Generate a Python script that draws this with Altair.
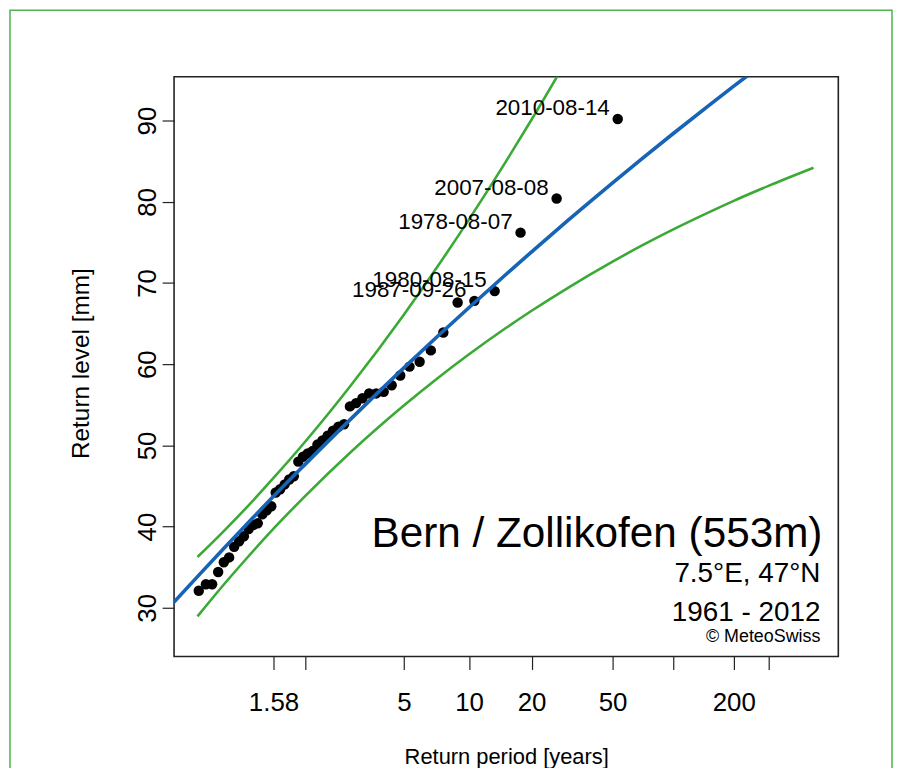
import altair as alt
import numpy as np
import pandas as pd

# ---------------- data ----------------
# annual maxima (visible part), return period from plotting position, level in mm
point_periods = [1.104, 1.128, 1.152, 1.178, 1.205, 1.233, 1.262, 1.293, 1.325, 1.359,
                 1.395, 1.432, 1.472, 1.514, 1.559, 1.606, 1.656, 1.710, 1.767, 1.828,
                 1.893, 1.963, 2.038, 2.120, 2.208, 2.304, 2.409, 2.524, 2.650, 2.789,
                 2.944, 3.118, 3.313, 3.533, 3.786, 4.077, 4.417, 4.818, 5.300, 5.889,
                 6.625, 7.571, 8.833, 10.6, 13.25, 17.667, 26.5, 53.0]
point_values = [32.1, 32.9, 32.9, 34.4, 35.6, 36.2, 37.5, 38.2, 38.8, 39.7,
                40.2, 40.4, 41.5, 42.0, 42.5, 44.2, 44.6, 45.2, 45.8, 46.2,
                48.0, 48.6, 49.0, 49.3, 50.1, 50.6, 51.2, 51.8, 52.3, 52.6,
                54.8, 55.2, 55.8, 56.4, 56.4, 56.6, 57.4, 58.6, 59.7, 60.3,
                61.7, 63.9, 67.6, 67.8, 69.0, 76.2, 80.4, 90.2]
# dates of the five largest events (same order as the last five points)
label_dates = ["1987-09-26", "1980-08-15", "1978-08-07", "2007-08-08", "2010-08-14"]

# fitted return level curve (blue)
fit_periods = [1.04, 1.1, 1.2, 1.35, 1.58, 2, 3, 5, 7, 10, 15, 20, 30, 50, 70, 100, 150, 200, 300]
fit_values = [30.28, 33.84, 37.18, 40.37, 43.70, 47.69, 53.39, 59.54, 63.25, 66.98,
              71.05, 73.84, 77.67, 82.33, 85.31, 88.41, 91.85, 94.24, 97.54]

# confidence band (green)
ci_periods = [1.1, 1.2, 1.35, 1.58, 2, 3, 5, 7, 10, 15, 20, 30, 50, 70, 100, 150, 200, 300, 500]
ci_lower = [28.94, 32.71, 36.19, 39.71, 43.78, 49.31, 54.91, 58.12, 61.22, 64.45,
            66.58, 69.38, 72.63, 74.62, 76.60, 78.70, 80.12, 81.99, 84.19]
ci_upper = [36.25, 39.32, 42.46, 45.96, 50.48, 57.56, 66.10, 71.75, 77.84, 84.95,
            90.13, 97.66, 107.55, 114.3, 121.7, 130.4, 136.8, 146.0, 158.1]

# axes
tick_periods = [1.58198, 2, 5, 10, 20, 50, 100, 200, 300]
tick_labels = ["1.58", "", "5", "10", "20", "50", "", "200", ""]
y_ticks = [30, 40, 50, 60, 70, 80, 90]

station_lines = ["Bern / Zollikofen (553m)", "7.5°E, 47°N", "1961 - 2012", "© MeteoSwiss"]

# ---------------- chart ----------------
FONT = "Liberation Sans"
U_EXPR = "-log(-log(1 - 1/datum.T))"   # Gumbel reduced variate


def reduced(T):
    return float(-np.log(-np.log(1.0 - 1.0 / T)))


tick_u = [reduced(t) for t in tick_periods]
label_expr = ""
for u, lab in zip(tick_u, tick_labels):
    label_expr += f"abs(datum.value - ({u:.6f})) < 0.001 ? '{lab}' : "
label_expr += "''"

x_enc = alt.X(
    "u:Q",
    scale=alt.Scale(domain=[-1.144, 6.499], nice=False, zero=False),
    axis=alt.Axis(
        values=tick_u, labelExpr=label_expr, title="Return period [years]",
        grid=False, domain=False, tickSize=13, tickColor="#222", tickWidth=1.2,
        labelFontSize=26, labelFont=FONT, labelColor="black", labelPadding=41,
        labelBaseline="alphabetic", labelOverlap=False, labelFlush=False,
        titleFont=FONT, titleFontSize=22, titleFontWeight="normal", titleColor="black",
        titleY=108, titleBaseline="alphabetic",
    ),
)
y_enc = alt.Y(
    "v:Q",
    scale=alt.Scale(domain=[24.0, 95.4], nice=False, zero=False),
    axis=alt.Axis(
        values=y_ticks, title="Return level [mm]", grid=False, domain=False,
        tickSize=12, tickColor="#222", tickWidth=1.2,
        labelAngle=270, labelAlign="center", labelBaseline="alphabetic", labelPadding=7,
        labelFontSize=26, labelFont=FONT, labelColor="black",
        titleFont=FONT, titleFontSize=24.5, titleFontWeight="normal", titleColor="black",
        titleAngle=270, titleX=-86, titleY=288, titleAlign="center", titleBaseline="alphabetic",
    ),
)

points_df = pd.DataFrame({"T": point_periods, "v": point_values})
labels_df = pd.DataFrame({"T": point_periods[-5:], "v": point_values[-5:], "date": label_dates})
fit_df = pd.DataFrame({"T": fit_periods, "v": fit_values})
ci_df = pd.concat([
    pd.DataFrame({"T": ci_periods, "v": ci_lower, "bound": "lower"}),
    pd.DataFrame({"T": ci_periods, "v": ci_upper, "bound": "upper"}),
])

points = alt.Chart(points_df).transform_calculate(u=U_EXPR).mark_circle(
    size=110, color="black", opacity=1
).encode(x=x_enc, y=y_enc)

ci = alt.Chart(ci_df).transform_calculate(u=U_EXPR).mark_line(
    color="#3aaa35", strokeWidth=2.6, clip=True, interpolate="monotone"
).encode(x=x_enc, y=y_enc, detail="bound:N", order="T:Q")

fit = alt.Chart(fit_df).transform_calculate(u=U_EXPR).mark_line(
    color="#1763b5", strokeWidth=3.6, clip=True, interpolate="monotone"
).encode(x=x_enc, y=y_enc, order="T:Q")

labels = alt.Chart(labels_df).transform_calculate(u=U_EXPR).mark_text(
    align="right", baseline="alphabetic", dx=-8, dy=-4, fontSize=22.5, font=FONT, color="black"
).encode(x=x_enc, y=y_enc, text="date:N")

text_specs = [(652, 473, 42.5), (650, 508, 28), (650, 547, 28), (650, 568, 18)]
texts = []
for line, (tx, ty, fs) in zip(station_lines, text_specs):
    texts.append(
        alt.Chart(pd.DataFrame({"t": [line]})).mark_text(
            align="right", baseline="alphabetic", fontSize=fs, font=FONT, color="black"
        ).encode(x=alt.value(tx), y=alt.value(ty), text="t:N")
    )

border = alt.Chart(pd.DataFrame({"a": [0]})).mark_rect(
    fill="white", fillOpacity=0, stroke="#4db34d", strokeWidth=1.5, clip=False
).encode(x=alt.value(-165), x2=alt.value(722), y=alt.value(-67), y2=alt.value(720))

chart = alt.layer(border, points, ci, fit, labels, *texts).properties(
    width=668, height=583,
    padding={"left": 167, "top": 67, "right": 56, "bottom": 110},
    autosize=alt.AutoSizeParams(type="none"),
    background="white",
).configure_view(stroke="#222", strokeWidth=1.6)

chart.save("out.html", embed_options={"renderer": "svg", "actions": False})
